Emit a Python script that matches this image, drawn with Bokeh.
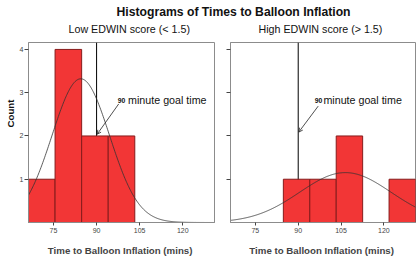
import numpy as np
from bokeh.plotting import figure
from bokeh.layouts import column, row
from bokeh.models import Range1d, FixedTicker, Label, Arrow, OpenHead, Title
from bokeh.embed import file_html
from bokeh.resources import INLINE

# ---------------- data ----------------
TITLE = "Histograms of Times to Balloon Inflation"
PANEL_TITLES = ["Low EDWIN score (< 1.5)", "High EDWIN score (> 1.5)"]
X_LABEL = "Time to Balloon Inflation  (mins)"
Y_LABEL = "Count"
BIN_EDGES = [66.3, 75.55, 84.8, 94.05, 103.3, 112.55, 121.8, 131.05]
LOW_COUNTS = [1, 4, 2, 2, 0, 0, 0]
HIGH_COUNTS = [0, 0, 1, 1, 2, 0, 1]
LOW_MEAN, LOW_SD = 84.5, 10.0
HIGH_MEAN, HIGH_SD = 106.5, 16.0
GOAL = 90
GOAL_NUM = "90"
GOAL_TEXT = "minute goal time"
X_TICKS = [75, 90, 105, 120]
Y_TICKS = [1, 2, 3, 4]
Y_MAX = 4.16

FONT = "Liberation Sans"
BAR_FILL = "#f23636"
BAR_LINE = "#861b1b"
FRAME = "#8c8c8c"
TXT = "#111111"

W, H_HEAD, H_PANEL = 416, 42, 216


def make_panel(counts, mean, sd, width, bl, br, show_labels,
               num_off, txt_off, arrow_start):
    p = figure(width=width, height=H_PANEL, output_backend="svg", toolbar_location=None,
               x_range=Range1d(BIN_EDGES[0], BIN_EDGES[-1]), y_range=Range1d(0, Y_MAX),
               min_border_left=bl, min_border_right=br, min_border_top=0,
               min_border_bottom=31, title=None)
    p.background_fill_color = "white"
    p.border_fill_color = "white"
    p.outline_line_color = FRAME
    p.grid.visible = False

    # goal line (drawn below bars)
    p.segment(x0=[GOAL], y0=[0], x1=[GOAL], y1=[Y_MAX], line_color="black", line_width=1)

    edges = np.array(BIN_EDGES)
    c = np.array(counts)
    m = c > 0
    p.quad(left=edges[:-1][m], right=edges[1:][m], bottom=0, top=c[m],
           fill_color=BAR_FILL, line_color=BAR_LINE, line_width=1)

    n = c.sum()
    w = edges[1] - edges[0]
    xs = np.linspace(BIN_EDGES[0], BIN_EDGES[-1], 300)
    ys = n * w * np.exp(-0.5 * ((xs - mean) / sd) ** 2) / (sd * np.sqrt(2 * np.pi))
    p.line(xs, ys, line_color="#333333", line_width=0.8)

    # annotation
    p.add_layout(Label(x=GOAL, y=2.83, x_offset=num_off, text=GOAL_NUM,
                       text_font=FONT, text_font_size="6.8px", text_font_style="bold",
                       text_color=TXT, text_baseline="alphabetic"))
    p.add_layout(Label(x=GOAL, y=2.83, x_offset=txt_off, text=GOAL_TEXT,
                       text_font=FONT, text_font_size="10.7px",
                       text_color=TXT, text_baseline="alphabetic"))
    xs0, ys0, ye = arrow_start
    p.add_layout(Arrow(x_start=xs0, y_start=ys0, x_end=GOAL + 0.2, y_end=ye,
                       line_color="#222222", line_width=0.8,
                       end=OpenHead(size=4, line_color="#222222", line_width=0.8)))

    # axes
    xa = p.xaxis[0]
    xa.ticker = FixedTicker(ticks=X_TICKS)
    xa.axis_label = X_LABEL
    xa.axis_label_text_font = FONT
    xa.axis_label_text_font_size = "9.7px"
    xa.axis_label_text_font_style = "bold"
    xa.axis_label_standoff = 9
    xa.major_label_text_font = FONT
    xa.major_label_text_font_size = "7px"
    xa.major_label_standoff = 2
    xa.major_tick_out = 3
    xa.major_tick_in = 0
    xa.minor_tick_out = 0
    xa.axis_line_color = FRAME
    xa.major_tick_line_color = "#444444"

    ya = p.yaxis[0]
    ya.ticker = FixedTicker(ticks=Y_TICKS)
    ya.major_tick_out = 4
    ya.major_tick_in = 0
    ya.minor_tick_out = 0
    ya.axis_line_color = FRAME
    ya.major_tick_line_color = "#444444"
    ya.major_label_text_font = FONT
    ya.major_label_text_font_size = "7px"
    ya.major_label_standoff = 1
    if show_labels:
        p.add_layout(Title(text=Y_LABEL, align="right", offset=57,
                           text_font=FONT, text_font_size="9.7px", text_font_style="bold",
                           text_color=TXT, standoff=2), "left")
    else:
        ya.major_label_overrides = {k: "" for k in Y_TICKS}
        ya.major_label_standoff = 0
    return p


left = make_panel(LOW_COUNTS, LOW_MEAN, LOW_SD, 221, 28, 7, True,
                  21.2, 31.5, (97.7, 2.74, 2.04))
right = make_panel(HIGH_COUNTS, HIGH_MEAN, HIGH_SD, 195, 9, 1, False,
                   16.6, 25.2, (97.0, 2.69, 2.09))

# heading strip: pixel-like coordinates (y grows downward)
head = figure(width=W, height=H_HEAD, output_backend="svg", toolbar_location=None,
              min_border=0, x_range=Range1d(0, W), y_range=Range1d(H_HEAD, 0))
head.axis.visible = False
head.grid.visible = False
head.outline_line_color = None
head.border_fill_color = "white"
head.add_layout(Label(x=116, y=11, text=TITLE, text_font=FONT, text_font_size="12.2px",
                      text_font_style="bold", text_color=TXT, text_baseline="alphabetic"))
head.add_layout(Label(x=68, y=28.5, text=PANEL_TITLES[0], text_font=FONT,
                      text_font_size="10.7px", text_color=TXT, text_baseline="alphabetic"))
head.add_layout(Label(x=258, y=28.5, text=PANEL_TITLES[1], text_font=FONT,
                      text_font_size="10.7px", text_color=TXT, text_baseline="alphabetic"))

layout = column(head, row(left, right, spacing=0), spacing=0)
open("out.html", "w").write(file_html(layout, INLINE))
